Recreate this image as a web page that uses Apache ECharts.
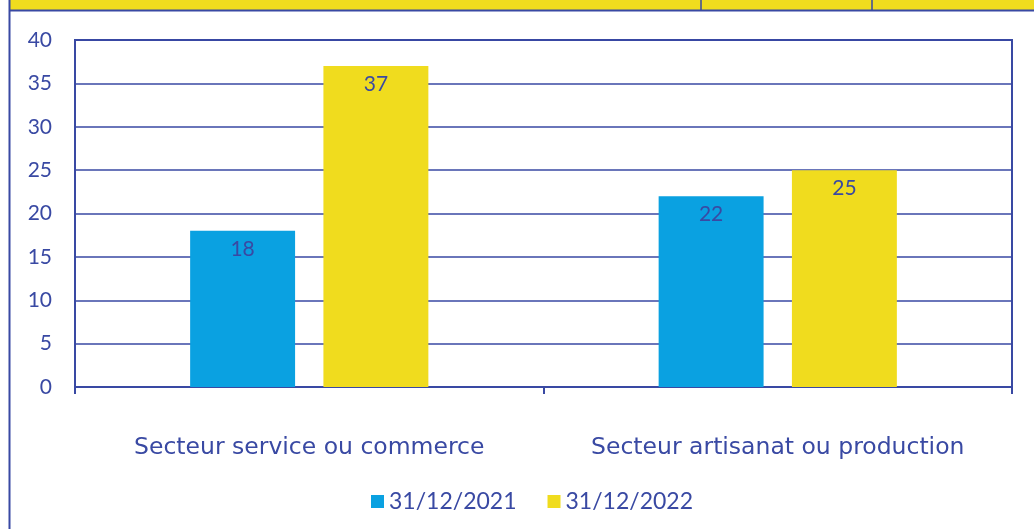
<!DOCTYPE html>
<html>
<head>
<meta charset="utf-8">
<script src="https://cdn.jsdelivr.net/npm/echarts@6/dist/echarts.min.js"></script>
<style>
  html, body { margin: 0; padding: 0; background: #ffffff; }
  #chart { width: 1034px; height: 529px; }
</style>
</head>
<body>
<div id="chart"></div>
<script>
const categories = ['Secteur service ou commerce', 'Secteur artisanat ou production']
const seriesNames = ['31/12/2021', '31/12/2022']
const values2021 = [18, 22]
const values2022 = [37, 25]

const ink = '#3949a3'
const blue = '#0aa1e1'
const yellow = '#f0dc1e'
const font = 'Lato'

const chart = echarts.init(document.getElementById('chart'))

const labelStyle = {
  show: true,
  position: 'insideTop',
  distance: 8,
  color: ink,
  fontSize: 21,
  fontFamily: font,
}

const option = {
  backgroundColor: '#ffffff',
  animation: false,
  // bordures du tableau autour du graphique
  graphic: [
    { type: 'rect', left: 9, top: 0, shape: { width: 1025, height: 10 }, style: { fill: yellow } },
    { type: 'line', shape: { x1: 9, y1: 10.5, x2: 1034, y2: 10.5 }, style: { stroke: ink, lineWidth: 2 } },
    { type: 'line', shape: { x1: 9.5, y1: 0, x2: 9.5, y2: 529 }, style: { stroke: ink, lineWidth: 2 } },
    { type: 'line', shape: { x1: 701, y1: 0, x2: 701, y2: 10 }, style: { stroke: ink, lineWidth: 1.5 } },
    { type: 'line', shape: { x1: 872, y1: 0, x2: 872, y2: 10 }, style: { stroke: ink, lineWidth: 1.5 } },
  ],
  legend: {
    bottom: 16,
    left: 371,
    padding: 0,
    itemWidth: 13,
    itemHeight: 13,
    itemGap: 31,
    icon: 'rect',
    textStyle: { color: ink, fontSize: 23, fontFamily: font },
    data: seriesNames,
  },
  grid: {
    left: 75,
    right: 22,
    top: 40,
    bottom: 142,
    show: true,
    borderColor: ink,
    borderWidth: 2,
  },
  xAxis: {
    type: 'category',
    data: categories,
    axisLine: { lineStyle: { color: ink, width: 2 } },
    axisTick: { show: true, length: 7, lineStyle: { color: ink, width: 2 } },
    axisLabel: {
      interval: 0,
      hideOverlap: false,
      color: ink,
      fontSize: 23.5,
      fontFamily: 'DejaVu Sans',
      margin: 49,
    },
  },
  yAxis: {
    type: 'value',
    min: 0,
    max: 40,
    interval: 5,
    axisLine: { show: true, lineStyle: { color: ink, width: 2 } },
    axisTick: { show: false },
    axisLabel: { color: ink, fontSize: 21, fontFamily: font, margin: 23 },
    splitLine: { lineStyle: { color: ink, width: 1.5 } },
  },
  series: [
    {
      name: seriesNames[0],
      type: 'bar',
      data: values2021,
      barWidth: '22.4%',
      barGap: '27%',
      itemStyle: { color: blue },
      label: labelStyle,
    },
    {
      name: seriesNames[1],
      type: 'bar',
      data: values2022,
      barWidth: '22.4%',
      itemStyle: { color: yellow },
      label: labelStyle,
    },
  ],
}

chart.setOption(option)
</script>
</body>
</html>
